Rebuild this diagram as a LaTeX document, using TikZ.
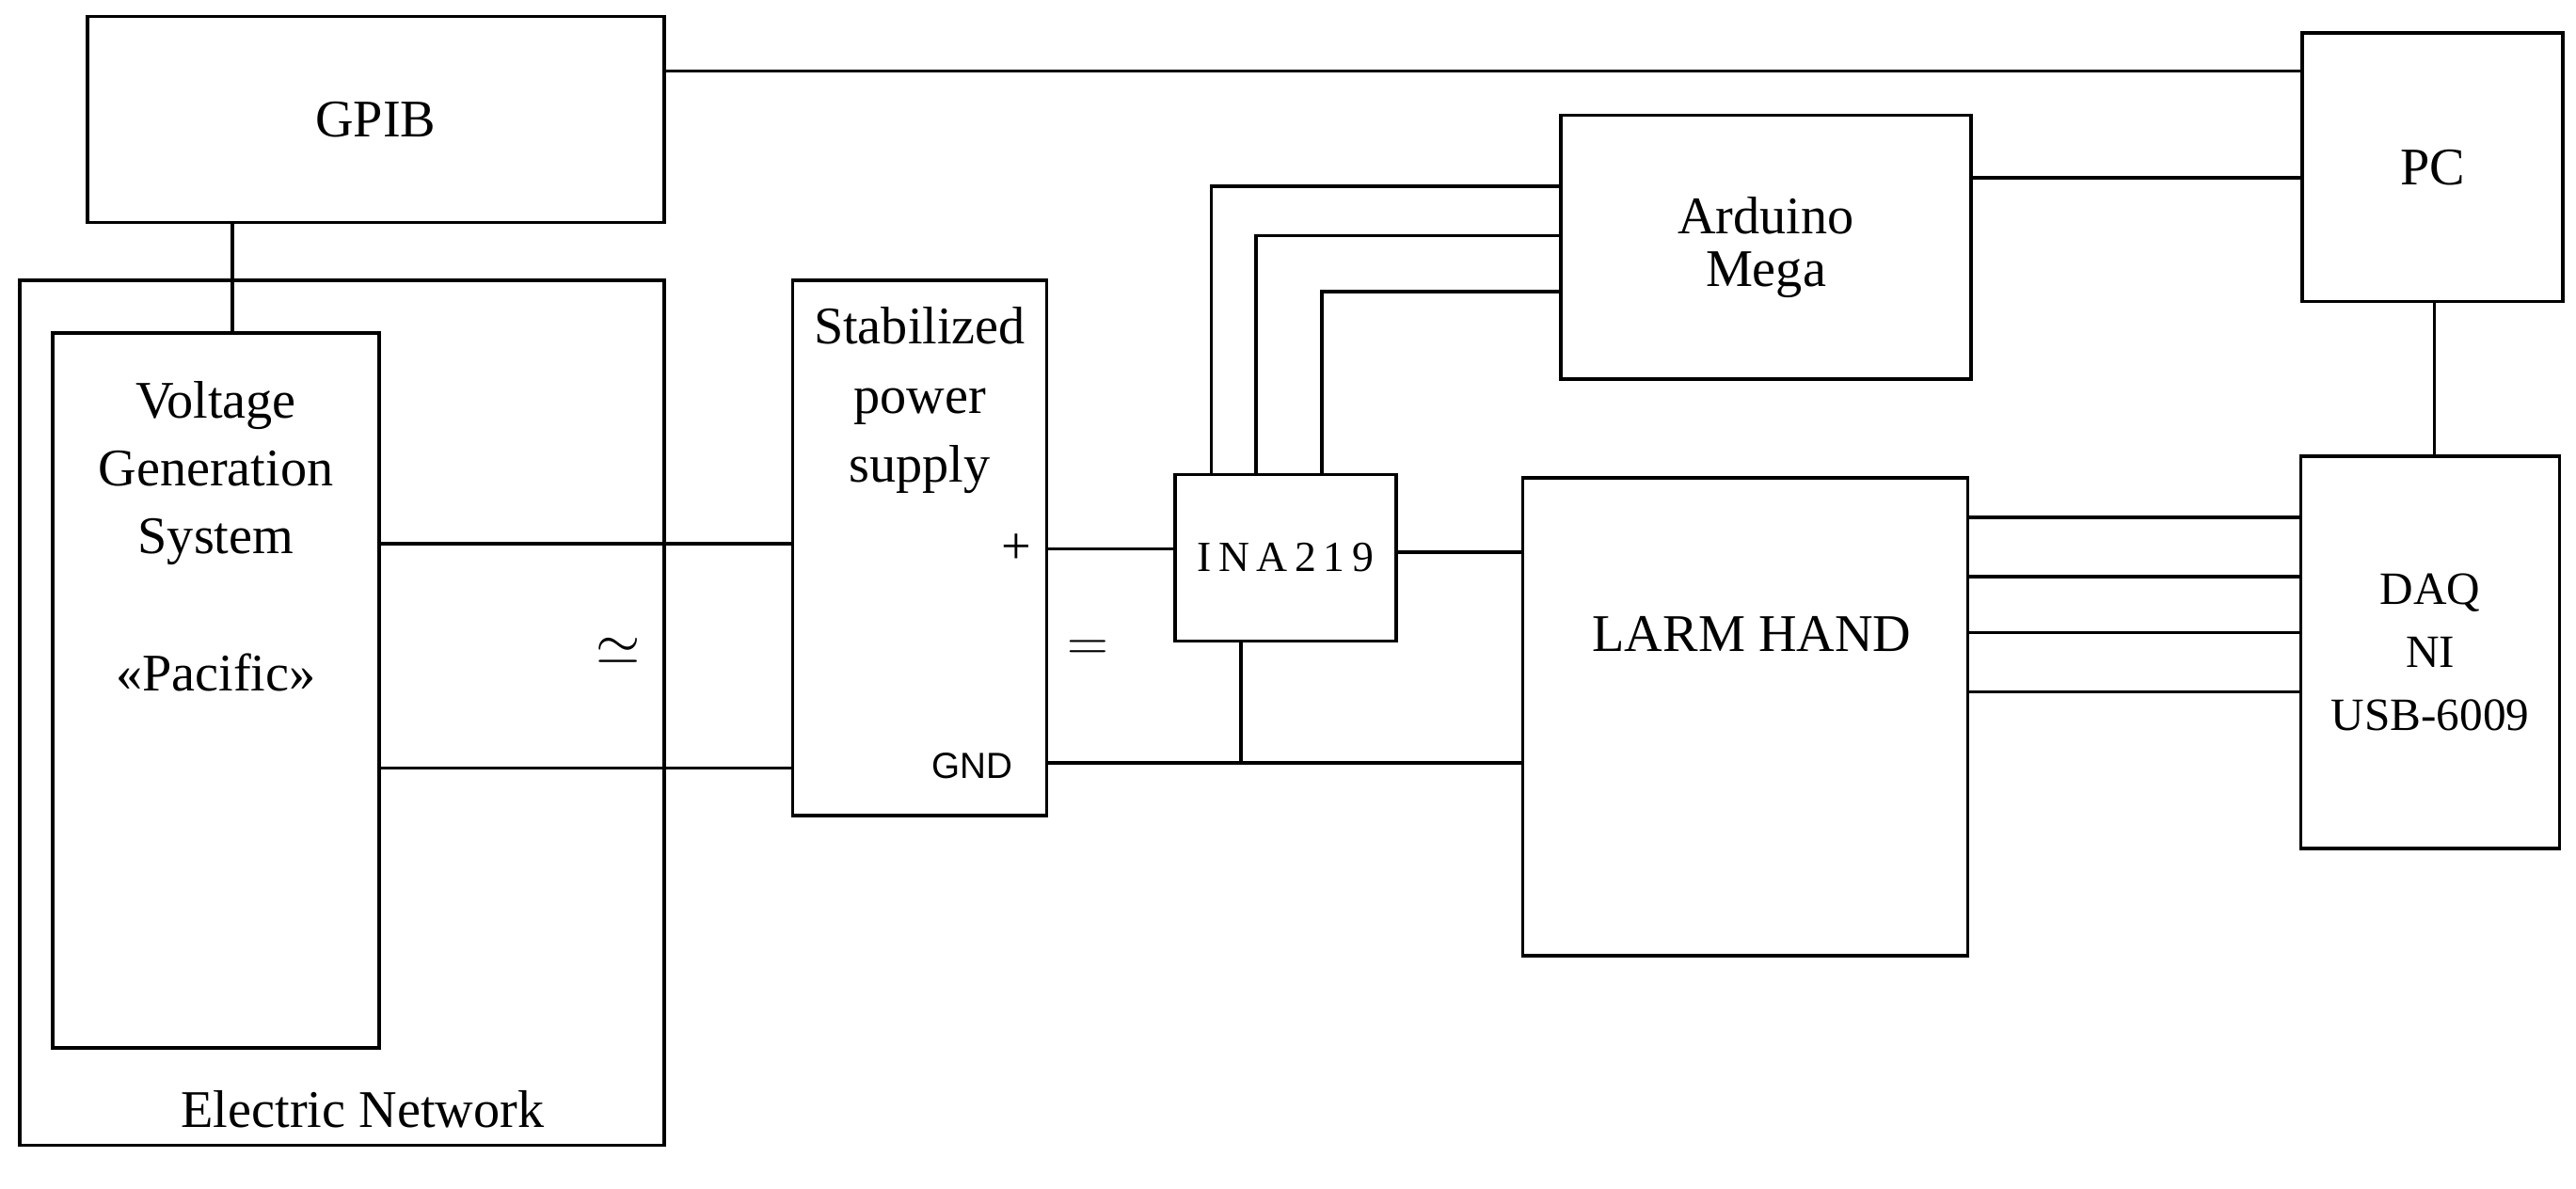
\documentclass[tikz,border=0pt]{standalone}
\usepackage{fontspec}
\setmainfont{Liberation Serif}
\newfontfamily\sansf{Liberation Sans}
\usetikzlibrary{positioning}
\begin{document}
\begin{tikzpicture}[x=0.01752cm, y=-0.01752cm, line width=1pt,
  box/.style 2 args={draw, line width=1pt, inner sep=0pt, minimum width=#1*0.01752cm, minimum height=#2*0.01752cm, align=center},
  lbl/.style={font=\fontsize{16}{19}\selectfont, align=center}]
\useasboundingbox (0,0) rectangle (1563,721);

% Boxes
\node[box={350}{125}, lbl] (gpib) at (228,72.5) {GPIB};
\node[box={391}{525}] (net) at (207.5,432.5) {};
\node[box={198}{434}] (vgs) at (131,419) {};
\node[box={154}{325}] (ps) at (558,332.5) {};
\node[box={134}{101}, font=\fontsize{13}{15}\selectfont] (ina) at (780,338.5) {I\,N\,A\,2\,1\,9};
\node[box={249}{160}, lbl, font=\fontsize{16}{18}\selectfont] (ard) at (1071.5,150) {Arduino\\[-2pt]Mega};
\node[box={158}{163}, lbl] (pc) at (1476,101.5) {PC};
\node[box={270}{290}, lbl] (larm) at (1059,435) {};
\node[box={157}{238}, font=\fontsize{14}{19}\selectfont] (daq) at (1474.5,396) {DAQ\\NI\\USB-6009};

% Labels
\node[lbl] (netlbl) at (220,673) {Electric Network};
\node[lbl, font=\fontsize{16}{20.5}\selectfont] (vgslbl) at (131,287) {Voltage\\Generation\\System};
\node[lbl] (pac) at (131,408) {«Pacific»};
\node[lbl] (ac) at (375,395) {$\simeq$};
\node[lbl, font=\fontsize{16}{21}\selectfont] (pslbl) at (558,243) {Stabilized\\power\\supply};
\node[lbl] (plus) at (617,333) {+};
\node[font=\sansf\fontsize{11}{13}\selectfont] (gnd) at (590,465) {GND};
\node[lbl] (dc) at (660,395) {$=$};
\node[lbl] (larmlbl) at (1063,385) {LARM HAND};

% Connections
\draw (gpib.east |- 0,43) -- (pc.west |- 0,43);
\draw (gpib.south -| 141,0) -- (vgs.north -| 141,0);
\draw (vgs.east |- 0,330) -- (ps.west |- 0,330);
\draw (vgs.east |- 0,466) -- (ps.west |- 0,466);
\draw (ps.east |- 0,333) -- (ina.west |- 0,333);
\draw (ps.east |- 0,463) -- (larm.west |- 0,463);
\draw (ina.south -| 753,0) -- (753,463);
\draw (ina.east |- 0,335) -- (larm.west |- 0,335);
\draw (ina.north -| 735,0) |- (ard.west |- 0,113);
\draw (ina.north -| 762,0) |- (ard.west |- 0,143);
\draw (ina.north -| 802,0) |- (ard.west |- 0,177);
\draw (ard.east |- 0,108) -- (pc.west |- 0,108);
\draw (pc.south -| 1477,0) -- (daq.north -| 1477,0);
\foreach \yy in {314,350,384,420}
  \draw (larm.east |- 0,\yy) -- (daq.west |- 0,\yy);
\end{tikzpicture}
\end{document}
